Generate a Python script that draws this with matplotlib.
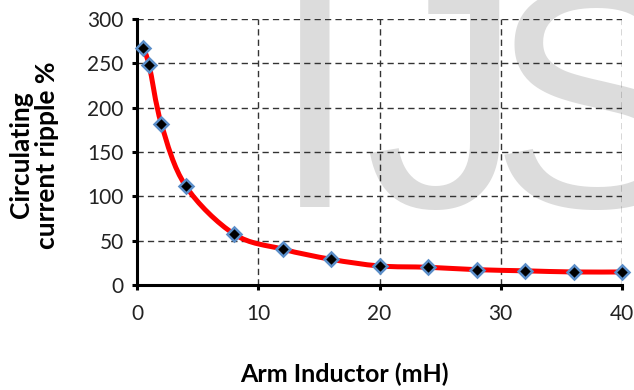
import numpy as np
import matplotlib.pyplot as plt
from matplotlib.path import Path
from matplotlib.patches import PathPatch

# inductance (mH) vs circulating current ripple (%)
inductance = [0.5, 1, 2, 4, 8, 12, 16, 20, 24, 28, 32, 36, 40]
ripple = [267, 248, 182, 112, 57.5, 40.5, 29, 21.5, 20, 17.3, 16, 14.7, 14.7]

x_ticks = [0, 10, 20, 30, 40]
y_ticks = [0, 50, 100, 150, 200, 250, 300]

plt.rcParams['font.family'] = ['Lato', 'DejaVu Sans']

fig = plt.figure(figsize=(6.34, 3.90), dpi=100)
ax = fig.add_axes([137/634, 1 - 285/390, 485/634, 266/390])
ax.set_facecolor('none')

# watermark behind the plot
wm = dict(fontsize=227, color='#dcdcdc', family='Liberation Sans',
          va='baseline', ha='left', zorder=-5)
fig.text(271/634, 1 - 207/390, 'I', **wm)
fig.text(364/634, 1 - 207/390, 'J', **wm)
fig.text(490/634, 1 - 207/390, 'S', **wm)

# smoothed line (bezier through the points, like a spreadsheet "smooth line")
pts = np.column_stack([inductance, ripple])
ext = np.vstack([pts[0], pts, pts[-1]])
verts = [pts[0]]
codes = [Path.MOVETO]
for i in range(len(pts) - 1):
    p0, p1, p2, p3 = ext[i], ext[i + 1], ext[i + 2], ext[i + 3]
    verts += [p1 + (p2 - p0) / 6, p2 - (p3 - p1) / 6, p2]
    codes += [Path.CURVE4] * 3
ax.add_patch(PathPatch(Path(verts, codes), facecolor='none', edgecolor='#ff0000',
                       lw=3.6, zorder=3, capstyle='round'))

ax.plot(inductance, ripple, linestyle='none', marker='D', markersize=7,
        markerfacecolor='black', markeredgecolor='#5b8ec9', markeredgewidth=1.8,
        zorder=4, clip_on=False)

ax.set_xlim(0, 40)
ax.set_ylim(0, 300)
ax.set_xticks(x_ticks)
ax.set_yticks(y_ticks)

ax.grid(True, color='#333333', linestyle=(0, (4.5, 3)), linewidth=1)
ax.set_axisbelow(True)
for s in ['top', 'right']:
    ax.spines[s].set_visible(False)
for s in ['left', 'bottom']:
    ax.spines[s].set_linewidth(2.2)
ax.tick_params(axis='both', length=3.6, width=2.2, labelsize=15, colors='black')
ax.tick_params(axis='y', pad=6)
ax.tick_params(axis='x', pad=10)
for lbl in ax.get_xticklabels() + ax.get_yticklabels():
    lbl.set_color('#222222')

fig.text(344/634, 1 - 374/390, 'Arm Inductor (mH)', fontsize=18,
         fontweight='bold', ha='center', va='center')
fig.text(34/634, 1 - 155/390, 'Circulating\ncurrent ripple %', fontsize=19,
         fontweight='bold', ha='center', va='center', rotation=90,
         multialignment='center', linespacing=1.12)

fig.savefig('out.png', dpi=100)
